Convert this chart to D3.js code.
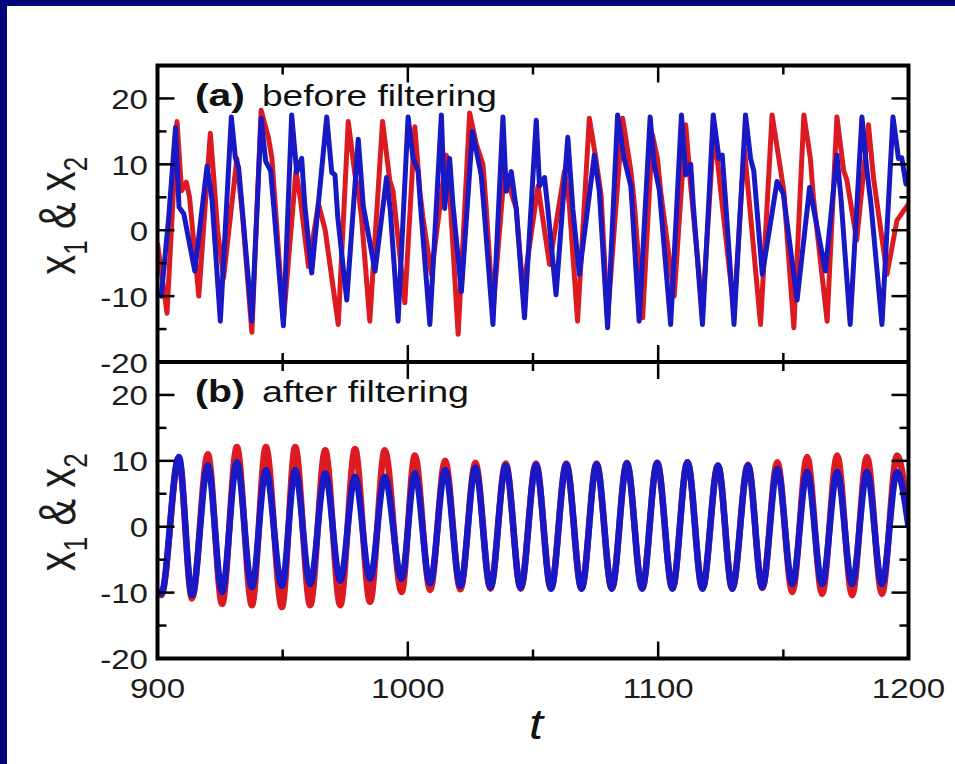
<!DOCTYPE html>
<html><head><meta charset="utf-8">
<script src="https://cdn.jsdelivr.net/npm/d3@7"></script>
<style>body{margin:0;background:#fff}svg{display:block}</style>
</head><body><svg id="c" width="955" height="764"></svg>
<script>
// ---------- data ----------
const tDomain = [900, 1200];
const yDomain = [-20, 25];
const tMajorTicks = [900, 1000, 1100, 1200];
const tMinorTicks = [950, 1050, 1150];
const yMajorTicks = [-20, -10, 0, 10, 20];
const yMinorTicks = [-15, -5, 5, 15];
const panelTags = ["(a)", "(b)"];
const panelTexts = ["before filtering", "after filtering"];
const yLabelParts = ["x", "1", " & ", "x", "2"];
const xLabel = "t";

// (a) before filtering: x1 (red) and x2 (blue), [t, value]
const x1Before = [[900,-2],[903.8,-12.6],[907.8,16.5],[909.6,6],[911.5,7.3],[912.8,5],[916.5,-10],[921.1,14.7],[922.4,8.4],[924,0],[926.4,-7.2],[931.7,10.9],[934,2],[937.7,-15.5],[941.4,18.2],[944.3,14.1],[945.7,10.9],[947,4],[950.3,-13.8],[955.3,9],[957,5],[960.3,-5.5],[964.3,4],[967,0],[972.2,-14.3],[976.2,16.5],[978.9,8.4],[980.2,5.9],[981.5,2],[984.8,-13.8],[989.9,16.5],[992.8,7.5],[994.1,5.9],[998.8,-11],[1002.8,15.7],[1004.8,5.9],[1006,2],[1009.4,-6.7],[1015.4,11.4],[1017,4],[1020.1,-15.8],[1024.7,17.8],[1027.4,13],[1030,10],[1031.2,4],[1034,-12.3],[1038.6,9],[1043.3,3.3],[1046,-9.3],[1052,6.7],[1056.6,-5.2],[1062.6,9],[1064.5,4],[1067.8,-13.8],[1072.5,17],[1075.1,10.9],[1077.2,5.3],[1079.8,-13.3],[1085.8,17],[1089.1,9],[1090.5,4],[1093.8,-13.3],[1097.7,14.5],[1099.7,10.9],[1101,5.9],[1106.4,-10],[1111,16],[1113,6.7],[1117.7,-12.3],[1122.3,15.5],[1125,5.9],[1130.3,-12.3],[1134.4,12.5],[1136,6],[1140.9,-14.3],[1145.5,17.5],[1148.2,10.9],[1150.2,5.9],[1154.2,-14.8],[1158.2,17.5],[1160.8,10.9],[1162,5],[1167.5,-13.8],[1171.4,17.2],[1174.1,9],[1175.4,7.6],[1179.3,-1.5],[1184,16],[1186,8],[1191.4,-6.7],[1195.4,1.5],[1200,4]];
const x2Before = [[900,-9.5],[901.5,-10],[904.5,2],[907.2,15.6],[908.6,3.5],[910.5,2.5],[914.9,-6.2],[919.8,9.7],[921.8,4.5],[925.1,-13.8],[929.5,17.2],[931.1,11],[932.4,9.5],[933.8,3.5],[937.7,-13.8],[941.4,17],[943.2,10.5],[945.2,9],[946.5,3.3],[950.3,-14.5],[953.6,17.5],[955.6,8.8],[957.6,10.9],[958.8,4],[961.6,-6.5],[967.6,17.2],[969.6,8.8],[970.9,8.4],[972,2],[975.6,-10.6],[980.2,13.8],[982.2,3.7],[986.9,-6.2],[991.5,8],[993,3],[996.1,-13.8],[1000.1,17.2],[1002.1,10.9],[1004.1,9],[1005,4],[1008.8,-14.3],[1013.4,17.5],[1014.7,3.3],[1016.7,10.9],[1018,4],[1021.4,-9.3],[1025.8,15],[1029.3,8.4],[1030.5,3],[1034,-14.3],[1038,17.2],[1039.3,5.9],[1041.3,8.9],[1043.3,3.3],[1046.6,-13.3],[1051.3,16.7],[1052.6,6.7],[1054.6,8],[1056,3],[1059.2,-9.8],[1063.9,14.1],[1065.9,3.3],[1068.5,-6.7],[1074.5,11.4],[1076.5,5.9],[1079.8,-14.8],[1083.8,17.5],[1086.4,10.9],[1089.1,6.7],[1092.4,-13.8],[1096.8,17.2],[1098.4,10],[1100.5,6],[1105,-14.3],[1109.3,17.5],[1111,8.4],[1113,10],[1114,4],[1117.7,-14.3],[1122,17.5],[1124.3,10.9],[1125.6,11.4],[1127,4],[1130.3,-14.3],[1134.9,17.5],[1136.9,10.9],[1138.2,9],[1141.6,-6.7],[1147.5,7.4],[1150,5.5],[1155.5,-10.6],[1160.5,6.5],[1166.8,-6.2],[1171.4,11.4],[1173,5],[1176.7,-14.3],[1181.4,17.2],[1183.4,9],[1185,4],[1189.4,-14.3],[1193.8,17.2],[1196,10.9],[1197.3,11],[1199,7],[1200,9]];

// (b) after filtering: x1 (red) and x2 (blue), [t, value] at extrema
const x1After = [[900,-9.8],[901.5,-10.4],[908.5,10.3],[913.8,-10.9],[920.1,11],[925.8,-11.7],[931.7,12.1],[937.7,-11.9],[943.3,12.1],[949.7,-12.2],[955,12.1],[961,-11.9],[967,11.6],[973,-11.9],[978.9,11.8],[984.9,-11.4],[990.8,11.6],[997.5,-9.9],[1002.8,10.8],[1008.9,-9.6],[1014.9,10],[1021,-9.5],[1027,9.7],[1033,-9.4],[1039.1,9.6],[1045.1,-9.4],[1051.2,9.6],[1057.2,-9.4],[1063.3,9.6],[1069.4,-9.4],[1075.4,9.6],[1081.5,-9.4],[1087.5,9.7],[1093.6,-9.4],[1099.6,9.7],[1105.7,-9.4],[1111.7,9.8],[1117.7,-9.4],[1123.9,9.3],[1129.6,-9.4],[1135.9,9.4],[1141.6,-9.3],[1147.6,9.8],[1153.6,-9.9],[1159.5,10.6],[1165.5,-10.2],[1171.5,10.8],[1177.5,-10.4],[1183.4,10.6],[1189.4,-10.2],[1195.4,10.8],[1200,1]];
const x2After = [[900,-9.6],[901.5,-10.2],[908.5,10.6],[913.8,-10.4],[920.1,9.3],[925.8,-9.9],[931.7,9.8],[937.7,-9.2],[943.3,8.6],[949.7,-9],[955,8.6],[961,-8.7],[967,8.1],[973,-8.2],[978.9,7.6],[984.9,-7.9],[990.8,7.6],[997.5,-7.9],[1002.8,8.1],[1008.9,-8.6],[1014.9,8.6],[1021,-9],[1027,9],[1033,-9.2],[1039.1,9.3],[1045.1,-9.3],[1051.2,9.4],[1057.2,-9.4],[1063.3,9.5],[1069.4,-9.4],[1075.4,9.5],[1081.5,-9.4],[1087.5,9.6],[1093.6,-9.4],[1099.6,9.7],[1105.7,-9.4],[1111.7,9.8],[1117.7,-9.4],[1123.9,9.3],[1129.6,-9.4],[1135.9,9.3],[1141.6,-9.2],[1147.6,8.8],[1153.6,-8.7],[1159.5,8.3],[1165.5,-8.7],[1171.5,8.3],[1177.5,-8.7],[1183.4,8.3],[1189.4,-8.7],[1195.4,8.3],[1200,0]];

// ---------- drawing ----------
const W = 955, H = 764;
const svg = d3.select("#c");
const NAVY = "#03037c", RED = "#dc1a22", BLUE = "#1818c4";
const SX = 1.18; // horizontal stretch of the original figure
const FONT = "'Liberation Sans', Arial, Helvetica, sans-serif";
const INK = "#1c1c1c";

svg.append("rect").attr("width", W).attr("height", H).attr("fill", NAVY);
svg.append("rect").attr("x", 7).attr("y", 6).attr("width", W - 7).attr("height", H - 6).attr("fill", "#fff");

const L = 157.5, R = 908.5, T = 65.5, M = 362, B = 658.5;
const x = d3.scaleLinear().domain(tDomain).range([L, R]);
const yA = d3.scaleLinear().domain(yDomain).range([M, T]);
const yB = d3.scaleLinear().domain(yDomain).range([B, M]);

const defs = svg.append("defs");
defs.append("clipPath").attr("id", "clipA").append("rect").attr("x", L).attr("y", T).attr("width", R - L).attr("height", M - T);
defs.append("clipPath").attr("id", "clipB").append("rect").attr("x", L).attr("y", M).attr("width", R - L).attr("height", B - M);

function drawSeries(data, y, color, clip, curve, w) {
  const line = d3.line().x(d => x(d[0])).y(d => y(d[1])).curve(curve);
  svg.append("path").datum(data).attr("d", line).attr("fill", "none")
    .attr("stroke", color).attr("stroke-width", w).attr("stroke-linejoin", "round")
    .attr("clip-path", `url(#${clip})`);
}
drawSeries(x1Before, yA, RED, "clipA", d3.curveLinear, 5);
drawSeries(x2Before, yA, BLUE, "clipA", d3.curveLinear, 5);
drawSeries(x1After, yB, RED, "clipB", d3.curveMonotoneX, 6.5);
drawSeries(x2After, yB, BLUE, "clipB", d3.curveMonotoneX, 6.5);

// ticks
const MAJ = 17, MIN = 9;
const tickG = svg.append("g").attr("stroke", "#000").attr("stroke-width", 2.5);
[[yA, T, M], [yB, M, B]].forEach(([y, top, bot]) => {
  yMajorTicks.forEach(v => {
    tickG.append("line").attr("x1", L).attr("x2", L + MAJ).attr("y1", y(v)).attr("y2", y(v));
    tickG.append("line").attr("x1", R - MAJ).attr("x2", R).attr("y1", y(v)).attr("y2", y(v));
  });
  yMinorTicks.forEach(v => {
    tickG.append("line").attr("x1", L).attr("x2", L + MIN).attr("y1", y(v)).attr("y2", y(v));
    tickG.append("line").attr("x1", R - MIN).attr("x2", R).attr("y1", y(v)).attr("y2", y(v));
  });
  tMajorTicks.forEach(t => {
    tickG.append("line").attr("x1", x(t)).attr("x2", x(t)).attr("y1", top).attr("y2", top + MAJ);
    tickG.append("line").attr("x1", x(t)).attr("x2", x(t)).attr("y1", bot - MAJ).attr("y2", bot);
  });
  tMinorTicks.forEach(t => {
    tickG.append("line").attr("x1", x(t)).attr("x2", x(t)).attr("y1", top).attr("y2", top + MIN);
    tickG.append("line").attr("x1", x(t)).attr("x2", x(t)).attr("y1", bot - MIN).attr("y2", bot);
  });
});

// frame
svg.append("rect").attr("x", L).attr("y", T).attr("width", R - L).attr("height", B - T)
  .attr("fill", "none").attr("stroke", "#000").attr("stroke-width", 4);
svg.append("line").attr("x1", L).attr("x2", R).attr("y1", M).attr("y2", M)
  .attr("stroke", "#000").attr("stroke-width", 4);

// tick labels
const txt = (px, py, s, size, anchor) => svg.append("text")
  .attr("transform", `translate(${px},${py}) scale(${SX},1)`)
  .attr("text-anchor", anchor).attr("font-family", FONT).attr("font-size", size)
  .attr("fill", INK).text(s);

[yA, yB].forEach(y => {
  yMajorTicks.forEach(v => txt(148, y(v) + 10.5, String(v), 28, "end"));
});
tMajorTicks.forEach(t => txt(x(t), 698, String(t), 28, "middle"));

// axis title t
svg.append("text").attr("transform", `translate(536,739) scale(${SX},1)`)
  .attr("text-anchor", "middle").attr("font-family", FONT).attr("font-style", "italic")
  .attr("font-size", 43).attr("fill", "#111").text(xLabel);

// y axis labels
[yA, yB].forEach(y => {
  const cy = (y(25) + y(-20)) / 2 + 2;
  const t = svg.append("text")
    .attr("transform", `translate(75,${cy}) scale(1.3,1) rotate(-90)`)
    .attr("text-anchor", "middle").attr("font-family", FONT).attr("font-size", 40).attr("fill", INK);
  t.append("tspan").text(yLabelParts[0]);
  t.append("tspan").attr("font-size", 26).attr("dy", 9).text(yLabelParts[1]);
  t.append("tspan").attr("dy", -9).text(yLabelParts[2]);
  t.append("tspan").text(yLabelParts[3]);
  t.append("tspan").attr("font-size", 26).attr("dy", 9).text(yLabelParts[4]);
});

// panel labels
[yA, yB].forEach((y, i) => {
  const base = y(25) + 40;
  svg.append("text").attr("x", 195).attr("y", base)
    .attr("font-family", FONT).attr("font-size", 31).attr("font-weight", "bold").attr("fill", "#111")
    .attr("textLength", 50).attr("lengthAdjust", "spacingAndGlyphs").text(panelTags[i]);
  svg.append("text").attr("x", 262).attr("y", base)
    .attr("font-family", FONT).attr("font-size", 30).attr("fill", "#111")
    .attr("textLength", i === 0 ? 235 : 207).attr("lengthAdjust", "spacingAndGlyphs").text(panelTexts[i]);
});
</script></body></html>
